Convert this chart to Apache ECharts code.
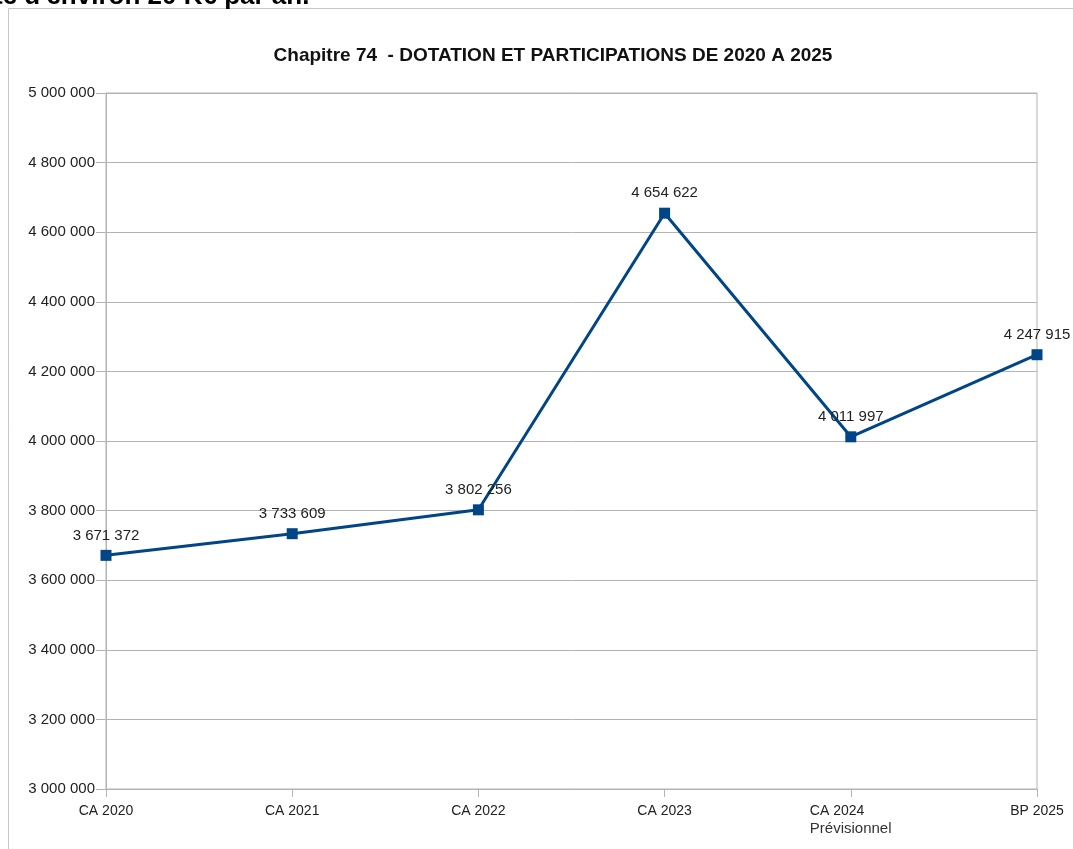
<!DOCTYPE html>
<html>
<head>
<meta charset="utf-8">
<script src="https://cdn.jsdelivr.net/npm/echarts@6/dist/echarts.min.js"></script>
<style>
html,body{margin:0;padding:0;background:#fff;}
#chart{width:1073px;height:849px;}
</style>
</head>
<body>
<div id="chart"></div>
<script>
// Chapitre 74 : dotation et participations, 2020 -> 2025
const categories = ['CA 2020', 'CA 2021', 'CA 2022', 'CA 2023', 'CA 2024\nPrévisionnel', 'BP 2025'];
const montants = [3671372, 3733609, 3802256, 4654622, 4011997, 4247915];
const yMin = 3000000;
const yMax = 5000000;
const yStep = 200000;

const sans = '"Liberation Sans", Arial, sans-serif';

function espaceMilliers(v) {
  return String(Math.round(v)).replace(/\B(?=(\d{3})+(?!\d))/g, ' ');
}

const chart = echarts.init(document.getElementById('chart'), null, {renderer: 'canvas'});
chart.setOption({
  backgroundColor: '#ffffff',
  animation: false,
  title: {
    text: 'Chapitre 74  - DOTATION ET PARTICIPATIONS DE 2020 A 2025',
    left: 548,
    textAlign: 'center',
    top: 41,
    textStyle: {fontFamily: sans, fontWeight: 'bold', fontSize: 19, color: '#111'}
  },
  graphic: [
    {
      type: 'rect',
      shape: {x: 8.5, y: 8.5, width: 1200, height: 1000},
      style: {fill: 'none', stroke: '#c6c6c6', lineWidth: 1},
      silent: true
    },
    {
      type: 'text',
      left: -6,
      top: -16,
      style: {text: "te d'environ 20 K€ par an.", font: 'bold 26px "Liberation Sans", Arial, sans-serif', fill: '#000'}
    }
  ],
  grid: {
    left: 106, right: 36, top: 93, bottom: 60,
    show: true, borderColor: '#b3b3b3', borderWidth: 1
  },
  xAxis: {
    type: 'category',
    data: categories,
    boundaryGap: false,
    axisLine: {lineStyle: {color: '#b3b3b3', width: 1}},
    axisTick: {show: true, length: 8, inside: false, alignWithLabel: true, lineStyle: {color: '#b3b3b3'}},
    axisLabel: {
      color: '#222', fontFamily: sans, fontSize: 14, margin: 13, lineHeight: 18,
      interval: 0, align: 'center',
      formatter: function (v) {
        const parts = v.split('\n');
        return parts.length > 1 ? '{a|' + parts[0] + '}\n{s|' + parts[1] + '}' : v;
      },
      rich: {
        a: {fontFamily: sans, fontSize: 14, color: '#222', lineHeight: 18, width: 82, align: 'left'},
        s: {fontFamily: sans, fontSize: 15, color: '#333', lineHeight: 18, width: 82, align: 'left'}
      }
    },
    splitLine: {show: false}
  },
  yAxis: {
    type: 'value',
    min: yMin, max: yMax, interval: yStep,
    axisLine: {show: true, lineStyle: {color: '#b3b3b3'}},
    axisTick: {show: true, length: 10, lineStyle: {color: '#b3b3b3'}},
    axisLabel: {color: '#222', fontFamily: sans, fontSize: 15, margin: 11, formatter: espaceMilliers},
    splitLine: {show: true, lineStyle: {color: '#b3b3b3', width: 1}}
  },
  series: [{
    type: 'line',
    data: montants,
    symbol: 'rect',
    symbolSize: 11,
    lineStyle: {color: '#004586', width: 3},
    itemStyle: {color: '#004586'},
    label: {
      show: true, position: 'top', distance: 7,
      color: '#222', fontFamily: sans, fontSize: 15,
      formatter: function (p) { return espaceMilliers(p.value); }
    }
  }]
});
</script>
</body>
</html>
